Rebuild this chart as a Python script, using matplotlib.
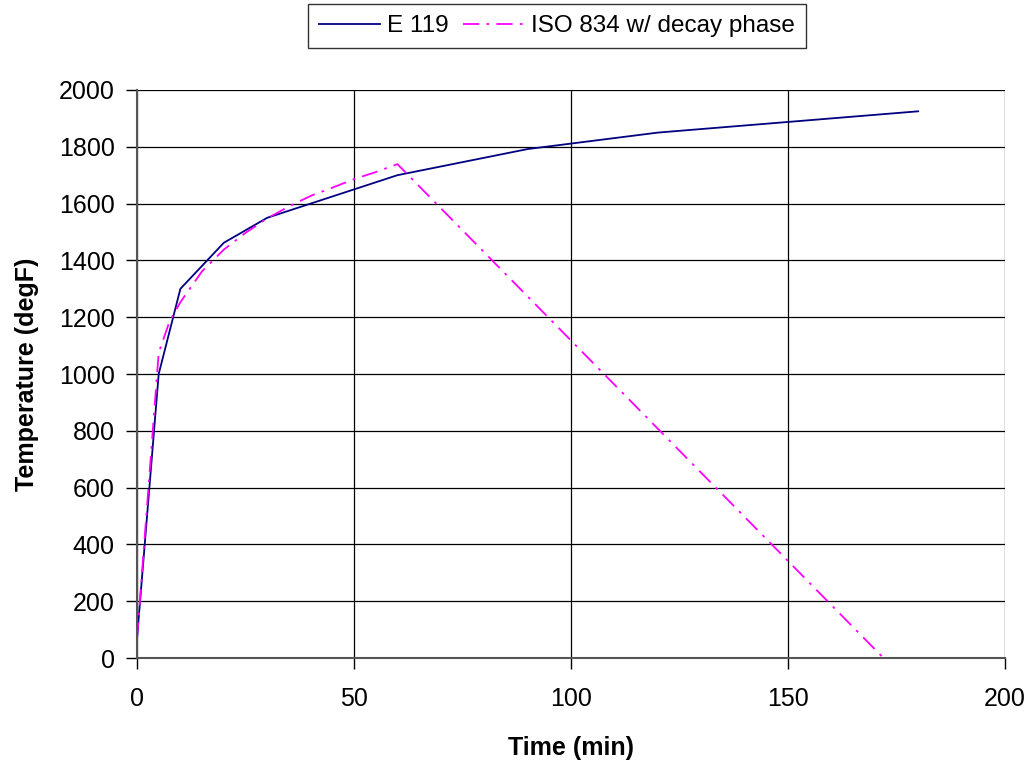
import matplotlib.pyplot as plt

plt.rcParams['font.family'] = ['Liberation Sans', 'DejaVu Sans']

# E 119 standard time-temperature curve
e119_time = [0, 5, 10, 20, 30, 60, 90, 120, 180]
e119_temp = [68, 1000, 1300, 1462, 1550, 1700, 1792, 1850, 1925]

# ISO 834 with decay phase
iso_time = [0, 5, 7.5, 10, 15, 20, 25, 30, 35, 40, 45, 50, 55, 60, 172]
iso_temp = [68, 1075, 1185, 1253, 1362, 1438, 1497, 1548, 1590,
            1627, 1656, 1686, 1711, 1739, 0]

fig = plt.figure(figsize=(10.34, 7.63), dpi=100)
ax = fig.add_axes([137/1034, 1 - 658/763, (1005-137)/1034, (658-90)/763])

ax.plot(e119_time, e119_temp, color='#000080', lw=1.3, label='E 119')
ax.plot(iso_time, iso_temp, color='#FF00FF', lw=1.3,
        linestyle=(0, (9, 4, 1.5, 4)), label='ISO 834 w/ decay phase')

ax.set_xlim(0, 200)
ax.set_ylim(0, 2000)
ax.set_xticks([0, 50, 100, 150, 200])
ax.set_yticks(range(0, 2001, 200))
ax.grid(True, color='black', lw=0.9)
ax.set_axisbelow(True)
for s in ['top', 'right']:
    ax.spines[s].set_visible(False)
for s in ['left', 'bottom']:
    ax.spines[s].set_color('#555555')
    ax.spines[s].set_linewidth(1.5)
ax.tick_params(direction='out', length=8, width=1, labelsize=18)
ax.tick_params(axis='y', pad=8)
ax.tick_params(axis='x', pad=13)

ax.set_xlabel('Time (min)', fontsize=18, fontweight='bold', labelpad=18)
ax.set_ylabel('Temperature (degF)', fontsize=18, fontweight='bold', labelpad=14)

leg = fig.legend(loc='center', bbox_to_anchor=(557/1034, 1 - 26/763), ncol=2,
                 fontsize=17.5, frameon=True, fancybox=False, edgecolor='black',
                 handlelength=2.5, handletextpad=0.3, columnspacing=0.6,
                 borderpad=0.45, borderaxespad=0)
leg.get_frame().set_linewidth(1.0)

fig.savefig('out.png', dpi=100)
